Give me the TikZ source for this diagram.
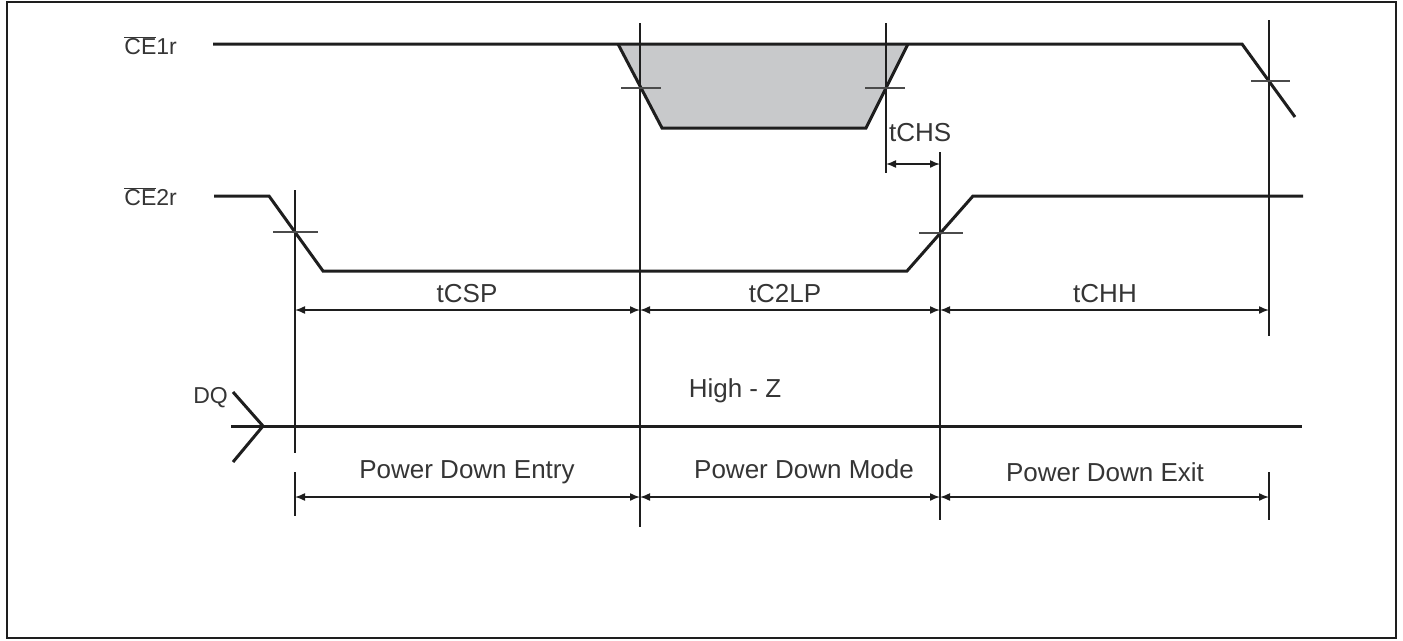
\documentclass[tikz,border=0pt]{standalone}
\usepackage{fontspec}
\setmainfont{Liberation Sans}
\usetikzlibrary{arrows.meta}
\definecolor{shadeg}{RGB}{200,201,203}
\definecolor{ink}{RGB}{30,30,30}
\begin{document}
\begin{tikzpicture}[x=1pt,y=-1pt,
 sig/.style={line width=3pt, color=ink, line join=miter},
 vline/.style={line width=2pt, color=ink},
 tickmark/.style={line width=1.5pt, color=ink!80},
 dim/.style={line width=1.5pt, color=ink, {Latex[length=10pt,width=8pt]}-{Latex[length=10pt,width=8pt]}},
 lbl/.style={font=\fontsize{26}{30}\selectfont, text=ink!90, inner sep=0pt},
 siglbl/.style={font=\fontsize{23}{28}\selectfont, text=ink!90, inner sep=0pt}]
\useasboundingbox (0,0) rectangle (1403,640);
\draw[line width=2.5pt, ink] (7,2) rectangle (1396,638);
% shaded area of CE1r
\fill[shadeg] (618,44) -- (662,128) -- (866,128) -- (908,44) -- cycle;
\draw[sig] (618,44) -- (662,128) -- (866,128) -- (908,44);
% CE1r
\draw[sig] (213,44) -- (1242,44) -- (1295,117);
% CE2r
\draw[sig] (214,196) -- (269,196) -- (323,271) -- (907,271) -- (973,196) -- (1303,196);
% DQ
\draw[sig] (231,426) -- (1302,426);
\draw[sig] (233,392) -- (263,426) -- (233,462);
% reference points
\coordinate (a1) at (295,310); \coordinate (b1) at (640,310);
\coordinate (c1) at (940,310); \coordinate (d1) at (1269,310);
\coordinate (a2) at (295,497); \coordinate (b2) at (640,497);
\coordinate (c2) at (940,497); \coordinate (d2) at (1269,497);
\coordinate (hs1) at (886,164); \coordinate (hs2) at (940,164);
% vertical reference lines
\draw[vline] (295,190) -- (295,453);
\draw[vline] (295,472) -- (295,516);
\draw[vline] (640,23) -- (640,527);
\draw[vline] (886,23) -- (886,173);
\draw[vline] (940,152) -- (940,520);
\draw[vline] (1269,20) -- (1269,336);
\draw[vline] (1269,472) -- (1269,520);
% crossing ticks
\draw[tickmark] (273,232) -- (318,232);
\draw[tickmark] (621,88) -- (661,88);
\draw[tickmark] (865,88) -- (905,88);
\draw[tickmark] (919,233) -- (963,233);
\draw[tickmark] (1251,81) -- (1290,81);
% dimension arrows
\draw[dim] (a1) -- (b1);
\draw[dim] (b1) -- (c1);
\draw[dim] (c1) -- (d1);
\draw[dim] (hs1) -- (hs2);
\draw[dim] (a2) -- (b2);
\draw[dim] (b2) -- (c2);
\draw[dim] (c2) -- (d2);
% labels
\node[siglbl, anchor=east] (ce1) at (177,46) {$\overline{\mbox{CE}}$1r};
\node[siglbl, anchor=east] (ce2) at (177,197) {$\overline{\mbox{CE}}$2r};
\node[siglbl, anchor=east] (dq) at (228,398) {DQ};
\node[lbl] (tcsp) at (467,294) {tCSP};
\node[lbl] (tc2lp) at (785,294) {tC2LP};
\node[lbl] (tchh) at (1105,294) {tCHH};
\node[lbl, anchor=west] (tchs) at (889,133) {tCHS};
\node[lbl] (hz) at (735,391) {High - Z};
\node[lbl] (pde) at (467,472) {Power Down Entry};
\node[lbl] (pdm) at (804,469) {Power Down Mode};
\node[lbl] (pdx) at (1105,472) {Power Down Exit};
\end{tikzpicture}
\end{document}
